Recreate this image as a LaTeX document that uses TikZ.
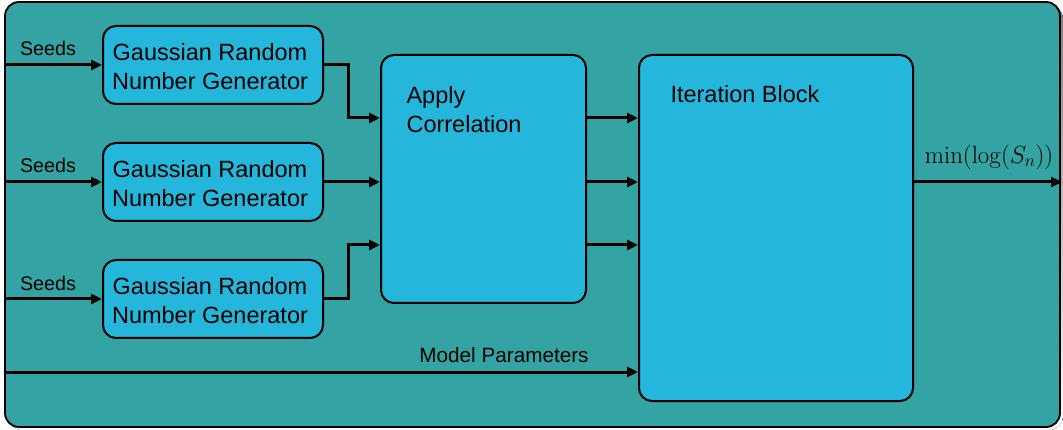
\documentclass[tikz,border=0pt]{standalone}
\usepackage[no-math]{fontspec}
\setmainfont{Liberation Sans}
\usetikzlibrary{arrows.meta,calc}
\definecolor{panel}{RGB}{51,163,163}
\definecolor{block}{RGB}{36,182,219}
\definecolor{shade}{RGB}{128,128,128}
\tikzset{
  blockbox/.style={draw=black, line width=2pt, fill=block, rounded corners=13pt, inner sep=0pt},
  flow/.style={line width=3pt, -{Triangle[length=11pt,width=10pt]}},
  blocktext/.style={font=\fontsize{23.5}{29}\selectfont, align=center},
  sidetext/.style={font=\fontsize{19.7}{23}\selectfont},
}
\begin{document}
\begin{tikzpicture}[x=1pt,y=-1pt]
\useasboundingbox (0,0) rectangle (1063,430);
% backdrop panel with its drop shadow
\fill[shade, rounded corners=14pt] (8,5) rectangle (1063,430);
\draw[fill=panel, line width=1.8pt, rounded corners=14pt] (5,2) rectangle (1060,427);

% random number generators
\node[blockbox, minimum width=220pt, minimum height=78pt] (g1) at (213,65) {};
\node[blockbox, minimum width=220pt, minimum height=78pt] (g2) at (213,182) {};
\node[blockbox, minimum width=220pt, minimum height=78pt] (g3) at (213,299) {};
\node[blocktext] (t1) at (210,67) {Gaussian Random\\Number Generator};
\node[blocktext] (t2) at (210,184) {Gaussian Random\\Number Generator};
\node[blocktext] (t3) at (210,301) {Gaussian Random\\Number Generator};

% correlation and iteration blocks
\node[blockbox, minimum width=205pt, minimum height=248pt] (corr) at (483.5,179) {};
\node[blocktext, anchor=north west, align=left] (corrtext) at (403,83) {Apply\\Correlation};
\node[blockbox, minimum width=274pt, minimum height=346pt] (iter) at (776,228) {};
\node[blocktext, anchor=north west] (itertext) at (667,82) {Iteration Block};

% free ends at the panel edges
\coordinate (s1) at (5,65);
\coordinate (s2) at (5,182);
\coordinate (s3) at (5,299);
\coordinate (mp) at (5,372);
\coordinate (out) at (1062,182);

% seed inputs
\draw[flow] (s1) -- (g1.west);
\draw[flow] (s2) -- (g2.west);
\draw[flow] (s3) -- (g3.west);
\node[sidetext] (l1) at (48,48) {Seeds};
\node[sidetext] (l2) at (48,165) {Seeds};
\node[sidetext] (l3) at (48,283) {Seeds};

% generators into correlation
\draw[flow] (g1.east) -- ++(24,0) |- (corr.west |- 0,118);
\draw[flow] (g2.east) -- (corr.west |- g2.east);
\draw[flow] (g3.east) -- ++(24,0) |- (corr.west |- 0,245);

% correlated streams into iteration
\draw[flow] (corr.east |- 0,118) -- (iter.west |- 0,118);
\draw[flow] (corr.east |- 0,182) -- (iter.west |- 0,182);
\draw[flow] (corr.east |- 0,245) -- (iter.west |- 0,245);

% model parameters
\draw[flow] (mp) -- (iter.west |- mp);
\node[font=\fontsize{20.7}{24}\selectfont] (lmp) at (504,355) {Model Parameters};

% result
\draw[flow] (iter.east |- out) -- (out);
\node[font=\fontsize{26}{30}\selectfont] (lout) at (989,157) {$\min(\log(S_n))$};
\end{tikzpicture}
\end{document}
